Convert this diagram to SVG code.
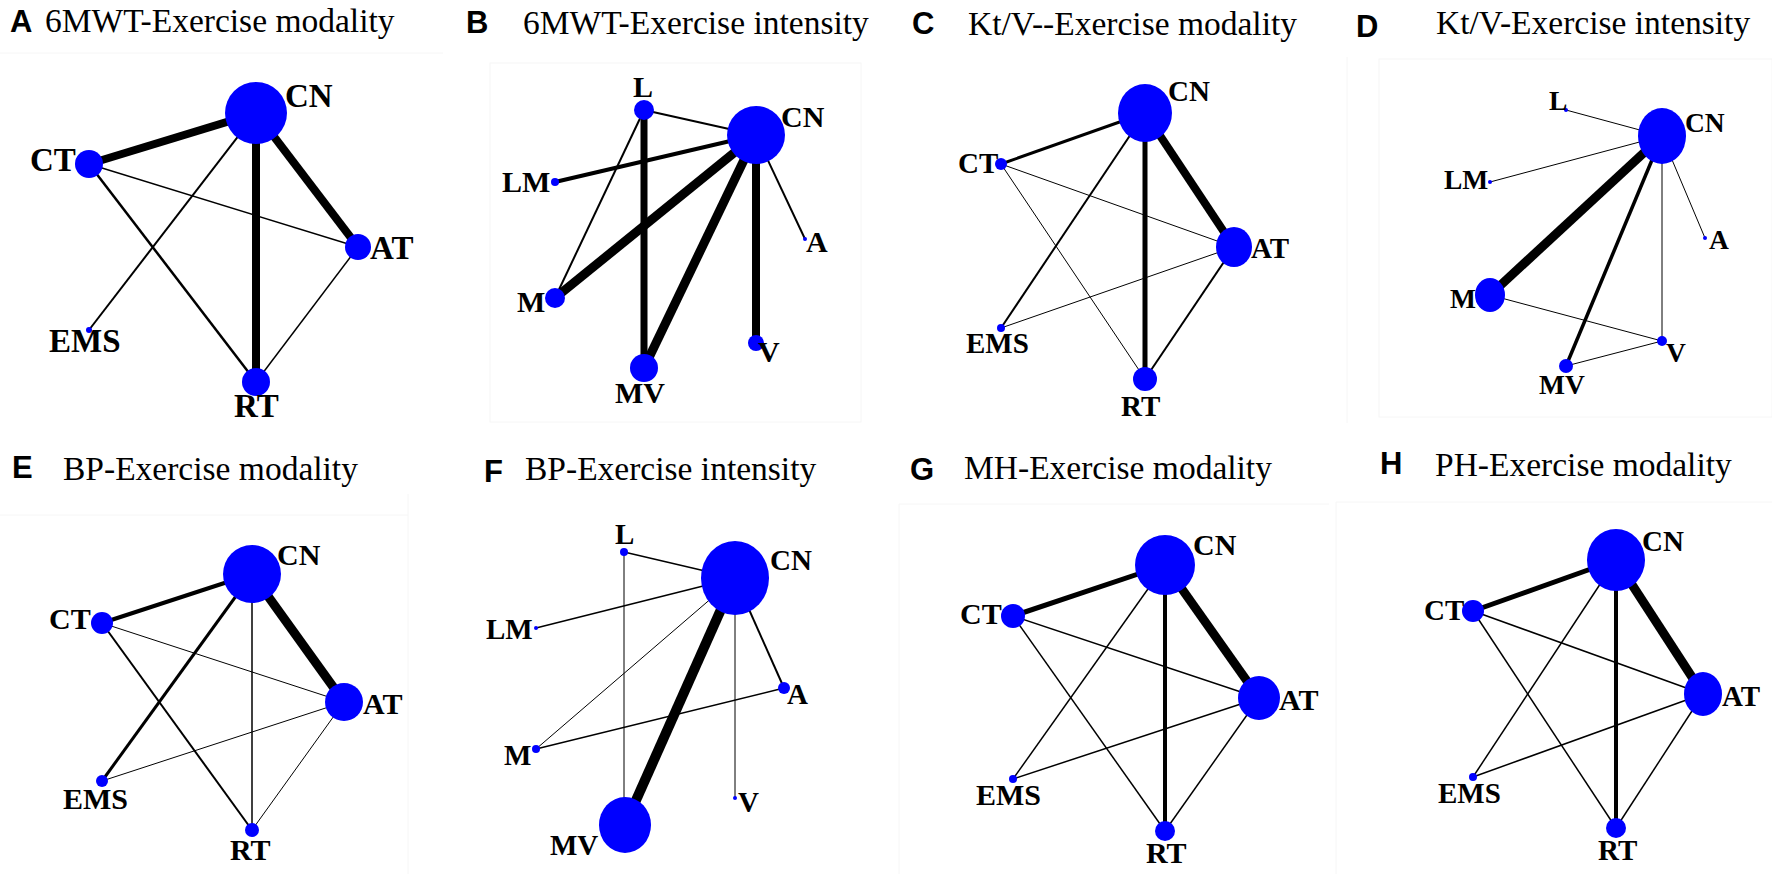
<svg xmlns="http://www.w3.org/2000/svg" width="1772" height="874" viewBox="0 0 1772 874">
<style>
.bg{fill:#fff}
.pl{font-family:"Liberation Sans",Arial,sans-serif;font-weight:bold;font-size:31px;fill:#000}
.tt{font-family:"Liberation Serif","Times New Roman",serif;font-size:33.5px;fill:#000}
.lb{font-family:"Liberation Serif","Times New Roman",serif;font-weight:bold;font-size:30px;fill:#000}
.sA{font-size:33px}.sB{font-size:30px}.sC{font-size:29px}.sD{font-size:27.5px}
.sE{font-size:30px}.sF{font-size:29px}.sG{font-size:30px}.sH{font-size:29px}
.nd{fill:#0000ff}
.e line{stroke:#000;stroke-linecap:butt}
.fr{stroke:#f6f6f6;stroke-width:1;fill:none}
</style>
<rect class="bg" x="0" y="0" width="1772" height="874"/>
<!-- faint frame artifacts -->
<g id="frames">
<line class="fr" x1="0" y1="53" x2="443" y2="53"/>
<rect class="fr" x="490" y="63" width="371" height="359"/>
<rect class="fr" x="1379" y="59" width="393" height="358"/>
<line class="fr" x1="1347" y1="57" x2="1347" y2="423"/>
<line class="fr" x1="0" y1="515" x2="408" y2="515"/>
<line class="fr" x1="408" y1="494" x2="408" y2="874"/>
<line class="fr" x1="899" y1="504" x2="899" y2="874"/>
<line class="fr" x1="899" y1="504" x2="1329" y2="504"/>
<line class="fr" x1="1336" y1="502" x2="1336" y2="874"/>
<line class="fr" x1="1336" y1="502" x2="1772" y2="502"/>
</g>
<!-- titles -->
<g id="titles">
<text class="pl" x="10" y="32">A</text><text class="tt" x="45" y="32">6MWT-Exercise modality</text>
<text class="pl" x="466" y="33">B</text><text class="tt" x="523" y="34">6MWT-Exercise intensity</text>
<text class="pl" x="912" y="34">C</text><text class="tt" x="968" y="35">Kt/V--Exercise modality</text>
<text class="pl" x="1356" y="37">D</text><text class="tt" x="1436" y="34">Kt/V-Exercise intensity</text>
<text class="pl" x="12" y="478">E</text><text class="tt" x="63" y="480">BP-Exercise modality</text>
<text class="pl" x="484" y="482">F</text><text class="tt" x="525" y="480">BP-Exercise intensity</text>
<text class="pl" x="910" y="480">G</text><text class="tt" x="964" y="479">MH-Exercise modality</text>
<text class="pl" x="1380" y="474">H</text><text class="tt" x="1435" y="476">PH-Exercise modality</text>
</g>
<!-- connectors -->
<g id="connectors" class="e">
<!-- A -->
<line x1="256" y1="113" x2="89" y2="164" stroke-width="8"/>
<line x1="256" y1="113" x2="358" y2="247" stroke-width="8"/>
<line x1="256" y1="113" x2="256" y2="382" stroke-width="8"/>
<line x1="256" y1="113" x2="89" y2="330" stroke-width="2"/>
<line x1="89" y1="164" x2="256" y2="382" stroke-width="2.5"/>
<line x1="89" y1="164" x2="358" y2="247" stroke-width="1.5"/>
<line x1="358" y1="247" x2="256" y2="382" stroke-width="1.5"/>
<!-- B -->
<line x1="644" y1="110" x2="756" y2="135" stroke-width="2"/>
<line x1="644" y1="110" x2="555" y2="298" stroke-width="2"/>
<line x1="644" y1="110" x2="644" y2="368" stroke-width="7"/>
<line x1="756" y1="135" x2="555" y2="182" stroke-width="4"/>
<line x1="756" y1="135" x2="555" y2="298" stroke-width="9"/>
<line x1="756" y1="135" x2="644" y2="368" stroke-width="9"/>
<line x1="756" y1="135" x2="756" y2="343" stroke-width="8"/>
<line x1="756" y1="135" x2="805" y2="239" stroke-width="2"/>
<!-- C -->
<line x1="1145" y1="113" x2="1001" y2="164" stroke-width="3"/>
<line x1="1145" y1="113" x2="1234" y2="247" stroke-width="8"/>
<line x1="1145" y1="113" x2="1145" y2="379" stroke-width="5"/>
<line x1="1145" y1="113" x2="1001" y2="328" stroke-width="2"/>
<line x1="1001" y1="164" x2="1234" y2="247" stroke-width="1"/>
<line x1="1001" y1="164" x2="1145" y2="379" stroke-width="1"/>
<line x1="1001" y1="328" x2="1234" y2="247" stroke-width="1"/>
<line x1="1234" y1="247" x2="1145" y2="379" stroke-width="2"/>
<!-- D -->
<line x1="1566" y1="110" x2="1662" y2="136" stroke-width="1"/>
<line x1="1490" y1="182" x2="1662" y2="136" stroke-width="1"/>
<line x1="1490" y1="295" x2="1662" y2="136" stroke-width="9"/>
<line x1="1566" y1="366" x2="1662" y2="136" stroke-width="3.5"/>
<line x1="1662" y1="341" x2="1662" y2="136" stroke-width="1"/>
<line x1="1705" y1="238" x2="1662" y2="136" stroke-width="1"/>
<line x1="1490" y1="295" x2="1662" y2="341" stroke-width="1"/>
<line x1="1566" y1="366" x2="1662" y2="341" stroke-width="1"/>
<!-- E -->
<line x1="252" y1="574" x2="102" y2="623" stroke-width="4"/>
<line x1="252" y1="574" x2="344" y2="702" stroke-width="9"/>
<line x1="252" y1="574" x2="102" y2="781" stroke-width="3"/>
<line x1="252" y1="574" x2="252" y2="830" stroke-width="1.5"/>
<line x1="102" y1="623" x2="344" y2="702" stroke-width="1"/>
<line x1="102" y1="623" x2="252" y2="830" stroke-width="2"/>
<line x1="102" y1="781" x2="344" y2="702" stroke-width="1"/>
<line x1="344" y1="702" x2="252" y2="830" stroke-width="1"/>
<!-- F -->
<line x1="624" y1="552" x2="735" y2="578" stroke-width="1.5"/>
<line x1="624" y1="552" x2="624" y2="825" stroke-width="1"/>
<line x1="536" y1="628" x2="735" y2="578" stroke-width="1.5"/>
<line x1="536" y1="749" x2="735" y2="578" stroke-width="1"/>
<line x1="536" y1="749" x2="784" y2="688" stroke-width="1.5"/>
<line x1="735" y1="578" x2="625" y2="825" stroke-width="10"/>
<line x1="735" y1="578" x2="735" y2="798" stroke-width="1"/>
<line x1="735" y1="578" x2="784" y2="688" stroke-width="2"/>
<!-- G -->
<line x1="1165" y1="565" x2="1013" y2="616" stroke-width="5"/>
<line x1="1165" y1="565" x2="1259" y2="698" stroke-width="9"/>
<line x1="1165" y1="565" x2="1165" y2="831" stroke-width="4"/>
<line x1="1165" y1="565" x2="1013" y2="779" stroke-width="1.5"/>
<line x1="1013" y1="616" x2="1259" y2="698" stroke-width="1.5"/>
<line x1="1013" y1="616" x2="1165" y2="831" stroke-width="1.5"/>
<line x1="1013" y1="779" x2="1259" y2="698" stroke-width="1.5"/>
<line x1="1259" y1="698" x2="1165" y2="831" stroke-width="1.5"/>
<!-- H -->
<line x1="1616" y1="560" x2="1473" y2="611" stroke-width="5"/>
<line x1="1616" y1="560" x2="1703" y2="694" stroke-width="9"/>
<line x1="1616" y1="560" x2="1616" y2="828" stroke-width="4"/>
<line x1="1616" y1="560" x2="1473" y2="777" stroke-width="1.5"/>
<line x1="1473" y1="611" x2="1703" y2="694" stroke-width="1.5"/>
<line x1="1473" y1="611" x2="1616" y2="828" stroke-width="1.5"/>
<line x1="1473" y1="777" x2="1703" y2="694" stroke-width="1.5"/>
<line x1="1703" y1="694" x2="1616" y2="828" stroke-width="1.5"/>
</g>
<!-- Panel A nodes -->
<g id="A-CN"><circle class="nd" cx="256" cy="113" r="31"/><text class="lb sA" x="285" y="107">CN</text></g>
<g id="A-CT"><circle class="nd" cx="89" cy="164" r="14"/><text class="lb sA" x="30" y="171">CT</text></g>
<g id="A-AT"><circle class="nd" cx="358" cy="247" r="13"/><text class="lb sA" x="370" y="259">AT</text></g>
<g id="A-EMS"><circle class="nd" cx="89" cy="330" r="3"/><text class="lb sA" x="49" y="352">EMS</text></g>
<g id="A-RT"><circle class="nd" cx="256" cy="382" r="14"/><text class="lb sA" x="234" y="417">RT</text></g>
<!-- Panel B nodes -->
<g id="B-L"><circle class="nd" cx="644" cy="110" r="10"/><text class="lb sB" x="633" y="97">L</text></g>
<g id="B-CN"><circle class="nd" cx="756" cy="135" r="29"/><text class="lb sB" x="781" y="127">CN</text></g>
<g id="B-LM"><circle class="nd" cx="555" cy="182" r="4"/><text class="lb sB" x="502" y="192">LM</text></g>
<g id="B-A"><circle class="nd" cx="805" cy="239" r="2"/><text class="lb sB" x="806" y="252">A</text></g>
<g id="B-M"><circle class="nd" cx="555" cy="298" r="10"/><text class="lb sB" x="517" y="312">M</text></g>
<g id="B-V"><circle class="nd" cx="756" cy="343" r="8"/><text class="lb sB" x="758" y="362">V</text></g>
<g id="B-MV"><circle class="nd" cx="644" cy="368" r="14"/><text class="lb sB" x="615" y="403">MV</text></g>
<!-- Panel C nodes -->
<g id="C-CN"><ellipse class="nd" cx="1145" cy="113" rx="27" ry="29"/><text class="lb sC" x="1168" y="101">CN</text></g>
<g id="C-CT"><circle class="nd" cx="1001" cy="164" r="6"/><text class="lb sC" x="958" y="173">CT</text></g>
<g id="C-AT"><ellipse class="nd" cx="1234" cy="247" rx="18" ry="20"/><text class="lb sC" x="1251" y="258">AT</text></g>
<g id="C-EMS"><circle class="nd" cx="1001" cy="328" r="4"/><text class="lb sC" x="966" y="353">EMS</text></g>
<g id="C-RT"><circle class="nd" cx="1145" cy="379" r="12"/><text class="lb sC" x="1121" y="416">RT</text></g>
<!-- Panel D nodes -->
<g id="D-L"><circle class="nd" cx="1566" cy="110" r="2"/><text class="lb sD" x="1549" y="110">L</text></g>
<g id="D-CN"><ellipse class="nd" cx="1662" cy="136" rx="24" ry="28"/><text class="lb sD" x="1685" y="132">CN</text></g>
<g id="D-LM"><circle class="nd" cx="1490" cy="182" r="2"/><text class="lb sD" x="1444" y="189">LM</text></g>
<g id="D-A"><circle class="nd" cx="1705" cy="238" r="2"/><text class="lb sD" x="1709" y="249">A</text></g>
<g id="D-M"><ellipse class="nd" cx="1490" cy="295" rx="15" ry="17"/><text class="lb sD" x="1450" y="308">M</text></g>
<g id="D-V"><circle class="nd" cx="1662" cy="341" r="5"/><text class="lb sD" x="1666" y="362">V</text></g>
<g id="D-MV"><circle class="nd" cx="1566" cy="366" r="7"/><text class="lb sD" x="1539" y="394">MV</text></g>
<!-- Panel E nodes -->
<g id="E-CN"><circle class="nd" cx="252" cy="574" r="29"/><text class="lb sE" x="277" y="565">CN</text></g>
<g id="E-CT"><circle class="nd" cx="102" cy="623" r="11"/><text class="lb sE" x="49" y="629">CT</text></g>
<g id="E-AT"><circle class="nd" cx="344" cy="702" r="19"/><text class="lb sE" x="363" y="714">AT</text></g>
<g id="E-EMS"><circle class="nd" cx="102" cy="781" r="6"/><text class="lb sE" x="63" y="809">EMS</text></g>
<g id="E-RT"><circle class="nd" cx="252" cy="830" r="7"/><text class="lb sE" x="230" y="860">RT</text></g>
<!-- Panel F nodes -->
<g id="F-L"><circle class="nd" cx="624" cy="552" r="4"/><text class="lb sF" x="615" y="544">L</text></g>
<g id="F-CN"><ellipse class="nd" cx="735" cy="578" rx="34" ry="37"/><text class="lb sF" x="770" y="570">CN</text></g>
<g id="F-LM"><circle class="nd" cx="536" cy="628" r="2"/><text class="lb sF" x="486" y="639">LM</text></g>
<g id="F-A"><circle class="nd" cx="784" cy="688" r="6"/><text class="lb sF" x="787" y="704">A</text></g>
<g id="F-M"><circle class="nd" cx="536" cy="749" r="4"/><text class="lb sF" x="504" y="765">M</text></g>
<g id="F-V"><circle class="nd" cx="735" cy="798" r="2"/><text class="lb sF" x="738" y="812">V</text></g>
<g id="F-MV"><ellipse class="nd" cx="625" cy="825" rx="26" ry="28"/><text class="lb sF" x="550" y="855">MV</text></g>
<!-- Panel G nodes -->
<g id="G-CN"><circle class="nd" cx="1165" cy="565" r="30"/><text class="lb sG" x="1193" y="555">CN</text></g>
<g id="G-CT"><circle class="nd" cx="1013" cy="616" r="12"/><text class="lb sG" x="960" y="624">CT</text></g>
<g id="G-AT"><ellipse class="nd" cx="1259" cy="698" rx="21" ry="22"/><text class="lb sG" x="1279" y="710">AT</text></g>
<g id="G-EMS"><circle class="nd" cx="1013" cy="779" r="4"/><text class="lb sG" x="976" y="805">EMS</text></g>
<g id="G-RT"><circle class="nd" cx="1165" cy="831" r="10"/><text class="lb sG" x="1146" y="863">RT</text></g>
<!-- Panel H nodes -->
<g id="H-CN"><ellipse class="nd" cx="1616" cy="560" rx="29" ry="31"/><text class="lb sH" x="1642" y="551">CN</text></g>
<g id="H-CT"><circle class="nd" cx="1473" cy="611" r="11"/><text class="lb sH" x="1424" y="620">CT</text></g>
<g id="H-AT"><ellipse class="nd" cx="1703" cy="694" rx="19" ry="22"/><text class="lb sH" x="1722" y="706">AT</text></g>
<g id="H-EMS"><circle class="nd" cx="1473" cy="777" r="4"/><text class="lb sH" x="1438" y="803">EMS</text></g>
<g id="H-RT"><circle class="nd" cx="1616" cy="828" r="10"/><text class="lb sH" x="1598" y="860">RT</text></g>
</svg>
